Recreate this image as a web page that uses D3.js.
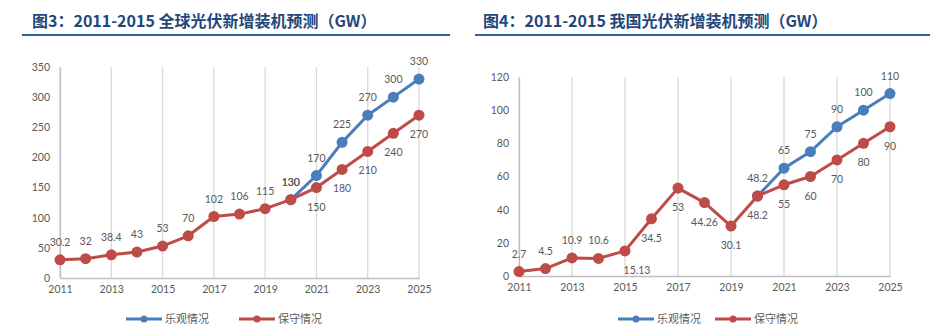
<!DOCTYPE html>
<html>
<head>
<meta charset="utf-8">
<script src="https://cdn.jsdelivr.net/npm/d3@7"></script>
<style>
  body { margin: 0; background: #fff; }
  svg { display: block; }
</style>
</head>
<body>
<svg id="chart" width="944" height="329"></svg>
<script>
// categories
const years = [2011, 2012, 2013, 2014, 2015, 2016, 2017, 2018, 2019, 2020, 2021, 2022, 2023, 2024, 2025];
const tickYears = [2011, 2013, 2015, 2017, 2019, 2021, 2023, 2025];

// 全球 (GW)
const globalConservative = [30.2, 32, 38.4, 43, 53, 70, 102, 106, 115, 130, 150, 180, 210, 240, 270];
const globalOptimistic = [null, null, null, null, null, null, null, null, null, 130, 170, 225, 270, 300, 330];
const globalYTicks = [0, 50, 100, 150, 200, 250, 300, 350];

// 我国 (GW)
const chinaConservative = [2.7, 4.5, 10.9, 10.6, 15.13, 34.5, 53, 44.26, 30.1, 48.2, 55, 60, 70, 80, 90];
const chinaOptimistic = [null, null, null, null, null, null, null, null, null, 48.2, 65, 75, 90, 100, 110];
const chinaYTicks = [0, 20, 40, 60, 80, 100, 120];

const seriesNames = ['乐观情况', '保守情况'];
const BLUE = '#4a7ebb';
const RED = '#be4b48';
const TXT = '#595959';
const NUM_FONT = 'Lato, "Liberation Sans", sans-serif';
const CJK_FONT = '"Noto Sans CJK SC", sans-serif';

const svg = d3.select('#chart');

function drawChart(o) {
  const g = svg.append('g');

  // title + rule
  g.append('text')
    .attr('x', o.titleX).attr('y', 27)
    .attr('font-family', CJK_FONT)
    .attr('font-weight', 'bold')
    .attr('font-size', 16)
    .attr('fill', '#24477a')
    .text(o.title);
  g.append('line')
    .attr('x1', o.ruleX[0]).attr('x2', o.ruleX[1])
    .attr('y1', 35).attr('y2', 35)
    .attr('stroke', '#2e5f96').attr('stroke-width', 2);

  const x = d3.scaleLinear().domain([years[0], years[years.length - 1]]).range(o.xRange);
  const y = d3.scaleLinear().domain([0, d3.max(o.yTicks)]).range(o.yRange);

  // vertical grid
  g.append('g')
    .selectAll('line')
    .data(tickYears)
    .join('line')
    .attr('x1', d => x(d)).attr('x2', d => x(d))
    .attr('y1', o.yRange[1]).attr('y2', o.yRange[0])
    .attr('stroke', '#d9d9d9').attr('stroke-width', 1.3);

  // axes
  const xAxis = g.append('g')
    .attr('transform', `translate(0,${o.yRange[0]})`)
    .call(d3.axisBottom(x).tickValues(tickYears).tickFormat(d3.format('d')).tickSize(0).tickPadding(8));
  const yAxis = g.append('g')
    .attr('transform', `translate(${o.xRange[0]},0)`)
    .call(d3.axisLeft(y).tickValues(o.yTicks).tickSize(0).tickPadding(10));
  [xAxis, yAxis].forEach(a => {
    a.select('.domain').attr('stroke', '#bfbfbf').attr('stroke-width', 1.3);
    a.selectAll('text')
      .attr('font-family', NUM_FONT)
      .attr('font-size', 10.5)
      .attr('fill', TXT);
  });

  const line = d3.line()
    .defined(d => d.v != null)
    .x(d => x(d.year))
    .y(d => y(d.v));

  const series = [
    { name: seriesNames[0], color: BLUE, values: o.optimistic, side: years.map(() => -1) },
    { name: seriesNames[1], color: RED, values: o.conservative, side: o.redSide }
  ];

  series.forEach(s => {
    const pts = years.map((year, i) => ({ year, v: s.values[i], side: s.side[i], dx: (s === series[1] && o.redDx) ? o.redDx[i] : 0 }));
    const valid = pts.filter(d => d.v != null);
    g.append('path')
      .datum(pts)
      .attr('fill', 'none')
      .attr('stroke', s.color)
      .attr('stroke-width', 3)
      .attr('stroke-linejoin', 'round')
      .attr('d', line);
    g.append('g')
      .selectAll('circle')
      .data(valid)
      .join('circle')
      .attr('cx', d => x(d.year))
      .attr('cy', d => y(d.v))
      .attr('r', 5.5)
      .attr('fill', s.color);
    g.append('g')
      .selectAll('text')
      .data(valid)
      .join('text')
      .attr('x', d => x(d.year) + d.dx)
      .attr('y', d => y(d.v) + (d.side < 0 ? -14 : 23))
      .attr('text-anchor', 'middle')
      .attr('font-family', NUM_FONT)
      .attr('font-size', 10.5)
      .attr('fill', TXT)
      .text(d => d.v);
  });

  // legend
  const leg = g.append('g').attr('transform', `translate(${o.legendX},319)`);
  series.forEach((s, i) => {
    const item = leg.append('g').attr('transform', `translate(${i * o.legendGap},0)`);
    item.append('line')
      .attr('x1', 0).attr('x2', 36)
      .attr('stroke', s.color).attr('stroke-width', 3);
    item.append('circle')
      .attr('cx', 18).attr('r', 3.5).attr('fill', s.color);
    item.append('text')
      .attr('x', 39).attr('y', 4)
      .attr('font-family', CJK_FONT)
      .attr('font-size', 11)
      .attr('fill', TXT)
      .text(s.name);
  });
}

drawChart({
  title: '图3：2011-2015 全球光伏新增装机预测（GW）',
  titleX: 32,
  ruleX: [22, 450],
  xRange: [60, 419],
  yRange: [278, 67],
  yTicks: globalYTicks,
  conservative: globalConservative,
  optimistic: globalOptimistic,
  redSide: [-1, -1, -1, -1, -1, -1, -1, -1, -1, -1, 1, 1, 1, 1, 1],
  legendX: 126,
  legendGap: 113
});

drawChart({
  title: '图4：2011-2015 我国光伏新增装机预测（GW）',
  titleX: 483,
  ruleX: [475, 930],
  xRange: [519, 890],
  yRange: [276, 77],
  yTicks: chinaYTicks,
  conservative: chinaConservative,
  optimistic: chinaOptimistic,
  redSide: [-1, -1, -1, -1, 1, 1, 1, 1, 1, 1, 1, 1, 1, 1, 1],
  redDx: [0, 0, 0, 0, 12, 0, 0, 0, 0, 0, 0, 0, 0, 0, 0],
  legendX: 618,
  legendGap: 97
});
</script>
</body>
</html>
